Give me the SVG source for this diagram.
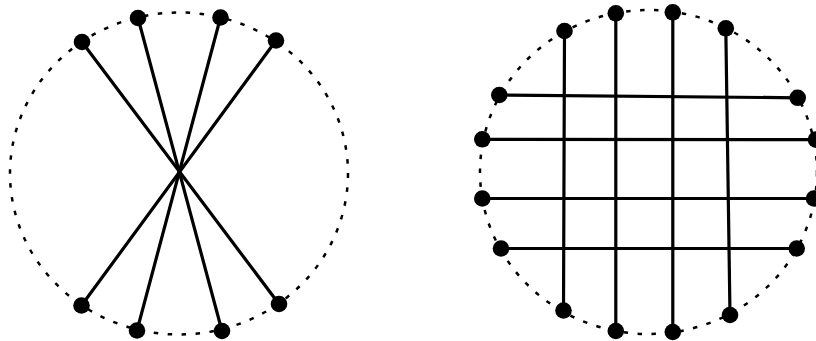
<svg xmlns="http://www.w3.org/2000/svg" width="816" height="341" viewBox="0 0 816 341">
<style>
.ring{fill:none;stroke:#000;stroke-width:2.5;stroke-dasharray:4.5 9.5}
.edge{stroke:#000;stroke-width:3.2;stroke-linecap:round}
.node{fill:#000}
</style>
<rect width="816" height="341" fill="#fff"/>
<ellipse class="ring" cx="179" cy="173.5" rx="169" ry="161"/>
<ellipse class="ring" cx="648.5" cy="172" rx="168.5" ry="162"/>
<g id="connectors">
<line class="edge" x1="82" y1="42" x2="279" y2="304"/>
<line class="edge" x1="138" y1="18" x2="222" y2="331"/>
<line class="edge" x1="220.5" y1="17.5" x2="137" y2="330.5"/>
<line class="edge" x1="276" y1="40.5" x2="81.5" y2="305.5"/>
<line class="edge" x1="564.5" y1="31" x2="563.5" y2="310.5"/>
<line class="edge" x1="615.8" y1="13.3" x2="615.8" y2="331"/>
<line class="edge" x1="672.8" y1="12.3" x2="672.8" y2="332"/>
<line class="edge" x1="725.8" y1="28.3" x2="730" y2="315"/>
<line class="edge" x1="499.3" y1="95" x2="797.7" y2="97.8"/>
<line class="edge" x1="482.3" y1="139.3" x2="816" y2="139.6"/>
<line class="edge" x1="482.3" y1="198.5" x2="814" y2="198.5"/>
<line class="edge" x1="501" y1="248.5" x2="796.7" y2="248.5"/>
</g>
<g id="n1"><circle class="node" cx="82" cy="42" r="8.3"/></g>
<g id="n2"><circle class="node" cx="138" cy="18" r="8.3"/></g>
<g id="n3"><circle class="node" cx="220.5" cy="17.5" r="8.3"/></g>
<g id="n4"><circle class="node" cx="276" cy="40.5" r="8.3"/></g>
<g id="n5"><circle class="node" cx="81.5" cy="305.5" r="8.3"/></g>
<g id="n6"><circle class="node" cx="137" cy="330.5" r="8.3"/></g>
<g id="n7"><circle class="node" cx="222" cy="331" r="8.3"/></g>
<g id="n8"><circle class="node" cx="279" cy="304" r="8.3"/></g>
<g id="m1"><circle class="node" cx="564.5" cy="31" r="8.3"/></g>
<g id="m2"><circle class="node" cx="615.8" cy="13.3" r="8.3"/></g>
<g id="m3"><circle class="node" cx="672.8" cy="12.3" r="8.3"/></g>
<g id="m4"><circle class="node" cx="725.8" cy="28.3" r="8.3"/></g>
<g id="m5"><circle class="node" cx="563.5" cy="310.5" r="8.3"/></g>
<g id="m6"><circle class="node" cx="615.8" cy="331" r="8.3"/></g>
<g id="m7"><circle class="node" cx="672.8" cy="332" r="8.3"/></g>
<g id="m8"><circle class="node" cx="730" cy="315" r="8.3"/></g>
<g id="m9"><circle class="node" cx="499.3" cy="95" r="8.3"/></g>
<g id="m10"><circle class="node" cx="482.3" cy="139.3" r="8.3"/></g>
<g id="m11"><circle class="node" cx="482.3" cy="198.5" r="8.3"/></g>
<g id="m12"><circle class="node" cx="501" cy="248.5" r="8.3"/></g>
<g id="m13"><circle class="node" cx="797.7" cy="97.8" r="8.3"/></g>
<g id="m14"><circle class="node" cx="816" cy="139.6" r="8.3"/></g>
<g id="m15"><circle class="node" cx="814" cy="198.5" r="8.3"/></g>
<g id="m16"><circle class="node" cx="796.7" cy="248.5" r="8.3"/></g>
</svg>
